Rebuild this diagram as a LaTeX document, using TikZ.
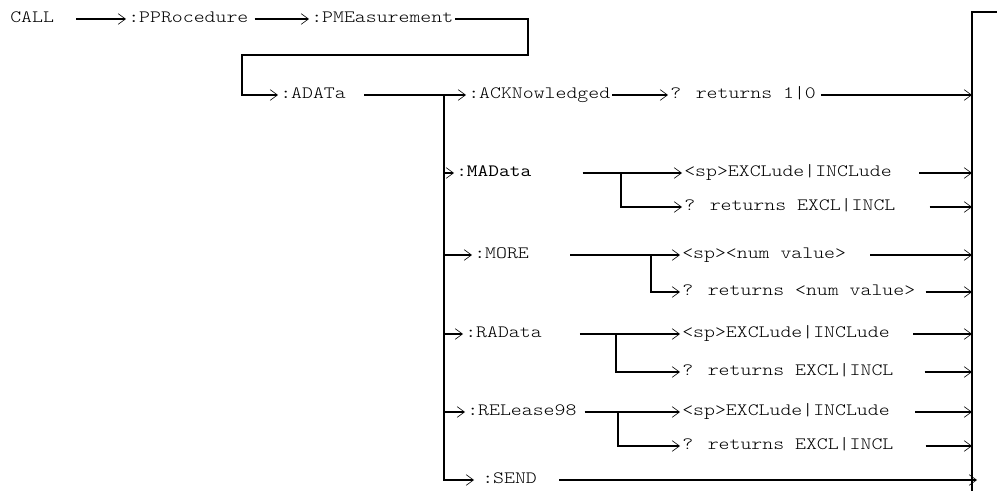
\documentclass[tikz,border=0pt]{standalone}
\usepackage{fontspec}
\newfontfamily\cmdfont[FakeStretch=1.2]{Latin Modern Mono Light}
\newfontfamily\cmdheavy[FakeStretch=1.2]{Latin Modern Mono}
\usetikzlibrary{arrows.meta}
\begin{document}
\begin{tikzpicture}[x=0.75pt,y=-0.75pt,font=\cmdfont\fontsize{13}{15}\selectfont,
  cmd/.style={anchor=west, inner xsep=1.5pt, inner ysep=0pt, text height=6pt, text depth=0pt},
  ln/.style={line width=0.9pt},
  arr/.style={ln, -{Straight Barb[length=5.5pt,width=8pt,line width=0.45pt]}}]
\useasboundingbox (0,0) rectangle (997,491);
\coordinate (bar) at (972,12);
\coordinate (bartail) at (997,12);
\coordinate (barfoot) at (972,491);
\coordinate (k1) at (528,55);
\coordinate (k2) at (242,55);
\coordinate (trunk) at (444,95);
\coordinate (mafork) at (621,173);
\coordinate (mofork) at (651,255);
\coordinate (rafork) at (616,334);
\coordinate (refork) at (618,412);
\node[cmd] (call) at (8,19) {CALL};
\node[cmd] (ppr) at (126,19) {:PPRocedure};
\node[cmd] (pme) at (309,19) {:PMEasurement};
\node[cmd] (adata) at (278,95) {:ADATa};
\node[cmd] (ack) at (466,95) {:ACKNowledged};
\node[cmd] (ackq) at (668,95) {? returns 1|0};
\node[cmd,font=\cmdheavy\fontsize{13}{15}\selectfont] (madata) at (454,173) {:MAData};
\node[cmd] (maset) at (682,173) {<sp>EXCLude|INCLude};
\node[cmd] (maqry) at (682,207) {? returns EXCL|INCL};
\node[cmd] (more) at (472,255) {:MORE};
\node[cmd] (moset) at (680,255) {<sp><num value>};
\node[cmd] (moqry) at (680,292) {? returns <num value>};
\node[cmd] (radata) at (463,334) {:RAData};
\node[cmd] (raset) at (680,334) {<sp>EXCLude|INCLude};
\node[cmd] (raqry) at (680,372) {? returns EXCL|INCL};
\node[cmd] (rel) at (465,412) {:RELease98};
\node[cmd] (reset) at (680,412) {<sp>EXCLude|INCLude};
\node[cmd] (reqry) at (680,446) {? returns EXCL|INCL};
\node[cmd] (send) at (480,480) {:SEND};
\draw[ln] (bartail) -- (bar) -- (barfoot);
\draw[arr,shorten <=15pt] (call) -- (ppr);
\draw[arr,shorten <=3pt] (ppr) -- (pme);
\draw[arr] (pme) -| (k1) -- (k2) |- (adata);
\draw[arr,shorten <=12pt] (adata) -- (ack);
\draw[arr] (ack) -- (ackq);
\draw[arr,shorten <=2pt] (ackq) -- (ackq -| bar);
\draw[arr,shorten >=4.5pt] (trunk) |- (send);
\draw[arr] (trunk |- madata) -- (madata);
\draw[arr] (trunk |- more) -- (more);
\draw[arr] (trunk |- radata) -- (radata);
\draw[arr] (trunk |- rel) -- (rel);
\draw[arr,shorten <=36.75pt] (madata) -- (maset);
\draw[arr] (mafork) |- (maqry);
\draw[arr,shorten <=18.75pt] (maset) -- (maset -| bar);
\draw[arr,shorten <=24pt] (maqry) -- (maqry -| bar);
\draw[arr,shorten <=29.25pt] (more) -- (moset);
\draw[arr] (mofork) |- (moqry);
\draw[arr,shorten <=16.5pt] (moset) -- (moset -| bar);
\draw[arr,shorten <=6pt] (moqry) -- (moqry -| bar);
\draw[arr,shorten <=27pt] (radata) -- (raset);
\draw[arr] (rafork) |- (raqry);
\draw[arr,shorten <=15.75pt] (raset) -- (raset -| bar);
\draw[arr,shorten <=21.75pt] (raqry) -- (raqry -| bar);
\draw[arr,shorten <=4.5pt] (rel) -- (reset);
\draw[arr] (refork) |- (reqry);
\draw[arr,shorten <=17.25pt] (reset) -- (reset -| bar);
\draw[arr,shorten <=22.5pt] (reqry) -- (reqry -| bar);
\draw[arr,shorten <=15pt] (send) -- ([xshift=3.75pt]send -| bar);
\end{tikzpicture}
\end{document}
